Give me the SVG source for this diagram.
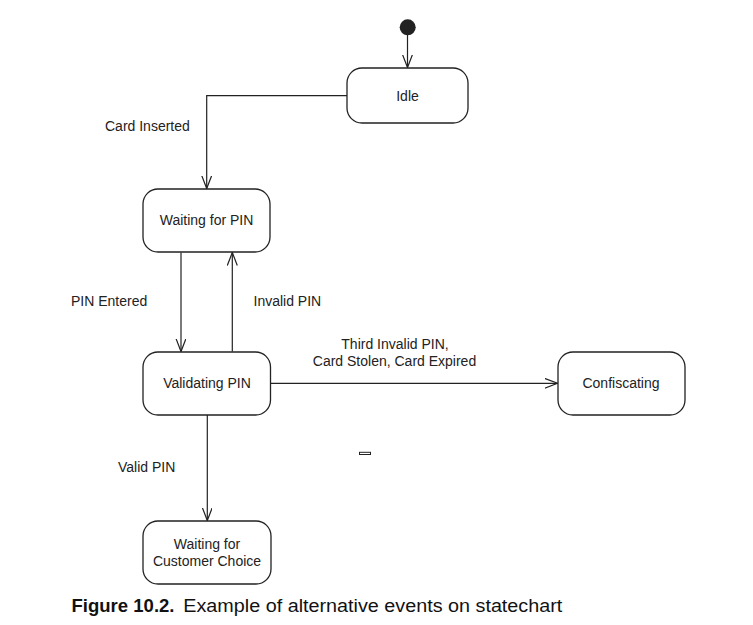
<svg xmlns="http://www.w3.org/2000/svg" width="753" height="625" viewBox="0 0 753 625">
<defs>
<marker id="open" markerWidth="16" markerHeight="12" refX="13" refY="5" orient="auto" markerUnits="userSpaceOnUse">
<path d="M0,0 L13,5 L0,10" fill="none" stroke="#222" stroke-width="1.2"/>
</marker>
<style>
.state rect{fill:#fff;stroke:#222;stroke-width:1.3}
text{font-family:"Liberation Sans",Arial,sans-serif;font-size:14px;fill:#222}
.c{text-anchor:middle}
.edge{fill:none;stroke:#222;stroke-width:1.2;marker-end:url(#open)}
</style>
</defs>
<rect width="753" height="625" fill="#fff"/>
<g id="connectors">
<path class="edge" d="M407.5,35 V67.5"/>
<path class="edge" d="M347,95.7 H206.7 V188.5"/>
<path class="edge" d="M181,252.5 V351.5"/>
<path class="edge" d="M232.3,351.5 V252.5"/>
<path class="edge" d="M271,383.3 H557.5"/>
<path class="edge" d="M207.3,415 V520.5"/>
</g>
<g id="labels">
<text x="105" y="131">Card Inserted</text>
<text x="71" y="306">PIN Entered</text>
<text x="253.5" y="305.5">Invalid PIN</text>
<text class="c" x="395" y="349">Third Invalid PIN,</text>
<text class="c" x="394.5" y="365.5">Card Stolen, Card Expired</text>
<text x="118" y="472">Valid PIN</text>
</g>
<g id="initial"><circle cx="407.7" cy="27.3" r="8" fill="#222"/></g>
<g id="idle" class="state"><rect x="347" y="68" width="121" height="55" rx="15"/><text class="c" x="407.5" y="101">Idle</text></g>
<g id="waitingPin" class="state"><rect x="143" y="189" width="127" height="63" rx="15"/><text class="c" x="206.5" y="225">Waiting for PIN</text></g>
<g id="validating" class="state"><rect x="143" y="352" width="127.5" height="63" rx="15"/><text class="c" x="207" y="388.3">Validating PIN</text></g>
<g id="confiscating" class="state"><rect x="558" y="352" width="127" height="63" rx="15"/><text class="c" x="621" y="388">Confiscating</text></g>
<g id="waitingChoice" class="state"><rect x="143" y="521" width="128" height="63" rx="15"/><text class="c" x="207" y="549">Waiting for</text><text class="c" x="207" y="565.5">Customer Choice</text></g>
<rect x="359.5" y="452.3" width="11" height="2.2" fill="#fff" stroke="#222" stroke-width="1"/>
<text x="71.5" y="612" style="font-size:17.5px;font-weight:bold;fill:#111" textLength="103" lengthAdjust="spacingAndGlyphs">Figure 10.2.</text>
<text x="183.3" y="612" style="font-size:17.5px;fill:#111" textLength="379" lengthAdjust="spacingAndGlyphs">Example of alternative events on statechart</text>
</svg>
